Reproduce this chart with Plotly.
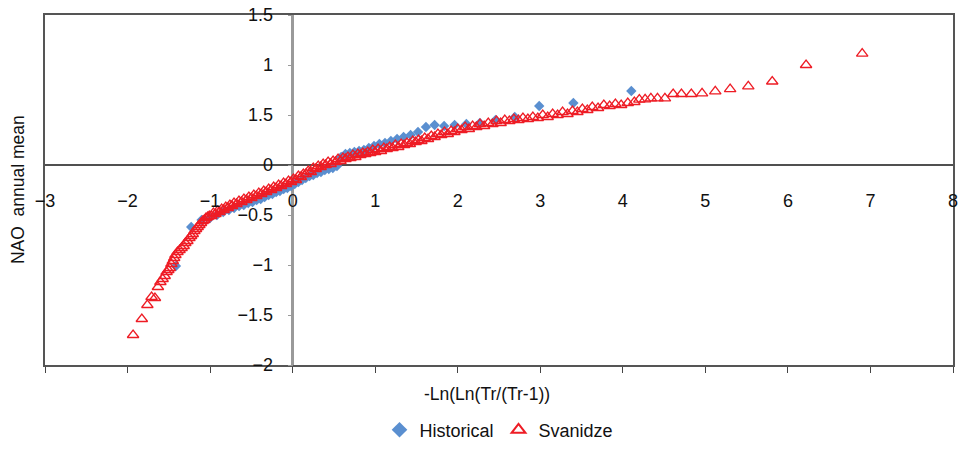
import plotly.graph_objects as go

# ---------------- data ----------------
hist_x = [-1.414, -1.229, -1.103, -1.002, -0.917, -0.841, -0.772, -0.709, -0.649, -0.592,
          -0.538, -0.486, -0.436, -0.387, -0.339, -0.291, -0.245, -0.199, -0.154, -0.109,
          -0.064, -0.020, 0.025, 0.070, 0.114, 0.159, 0.205, 0.250, 0.296, 0.343,
          0.390, 0.438, 0.487, 0.537, 0.588, 0.640, 0.693, 0.748, 0.805, 0.863,
          0.923, 0.986, 1.051, 1.119, 1.190, 1.265, 1.344, 1.429, 1.519, 1.615,
          1.720, 1.835, 1.962, 2.105, 2.268, 2.459, 2.691, 2.987, 3.401, 4.103]
hist_y = [-1.01, -0.62, -0.55, -0.53, -0.50, -0.47, -0.45, -0.43, -0.41, -0.40,
          -0.38, -0.37, -0.35, -0.34, -0.32, -0.30, -0.29, -0.27, -0.26, -0.24,
          -0.23, -0.21, -0.19, -0.17, -0.15, -0.13, -0.11, -0.10, -0.08, -0.07,
          -0.05, -0.04, -0.03, -0.01, 0.08, 0.11, 0.12, 0.13, 0.14, 0.15,
          0.17, 0.19, 0.21, 0.22, 0.24, 0.26, 0.28, 0.30, 0.33, 0.38,
          0.40, 0.39, 0.40, 0.41, 0.42, 0.45, 0.48, 0.59, 0.62, 0.74]

svan_x = [-1.933, -1.827, -1.760, -1.709, -1.668, -1.632, -1.602, -1.575, -1.550, -1.527,
          -1.506, -1.487, -1.469, -1.452, -1.435,
          -1.420, -1.395, -1.370, -1.345, -1.320, -1.300, -1.275, -1.250, -1.230, -1.210,
          -1.190, -1.170, -1.150, -1.130, -1.110, -1.090, -1.070, -1.050, -1.030, -1.010,
          -0.985, -0.960, -0.935, -0.910, -0.885, -0.860, -0.835, -0.810, -0.785, -0.760,
          -0.735, -0.710, -0.680, -0.650, -0.620, -0.590, -0.560, -0.530, -0.500, -0.470,
          -0.440, -0.410, -0.380, -0.350, -0.320, -0.290, -0.260, -0.230, -0.200, -0.170,
          -0.140, -0.110, -0.080, -0.050, -0.020, 0.010, 0.040, 0.070, 0.100, 0.130,
          0.160, 0.190, 0.220, 0.250, 0.280, 0.310, 0.340, 0.370, 0.400, 0.430,
          0.460, 0.490, 0.520, 0.550, 0.580, 0.610, 0.640, 0.670, 0.700, 0.730,
          0.760, 0.790, 0.820, 0.850, 0.880, 0.910, 0.940, 0.970, 1.000, 1.035,
          1.070, 1.105, 1.140, 1.175, 1.210, 1.245, 1.280, 1.315, 1.350, 1.385,
          1.420, 1.455, 1.490, 1.525, 1.560, 1.600, 1.640, 1.680, 1.720, 1.760,
          1.800, 1.840, 1.880, 1.920, 1.960, 2.000, 2.045, 2.090, 2.135, 2.180,
          2.225, 2.270, 2.320, 2.370, 2.420, 2.470, 2.520, 2.570, 2.625, 2.680,
          2.735, 2.790, 2.850, 2.910, 2.970, 3.030, 3.090, 3.150, 3.210, 3.270,
          3.330, 3.390, 3.450, 3.510, 3.570, 3.630, 3.700, 3.770, 3.840, 3.910,
          3.980, 4.060, 4.140, 4.200, 4.270, 4.340, 4.420, 4.510, 4.610, 4.710,
          4.830, 4.960, 5.120, 5.300, 5.520, 5.810, 6.220, 6.900]
svan_y = [-1.70, -1.54, -1.40, -1.32, -1.33, -1.22, -1.17, -1.14, -1.11, -1.07,
          -1.05, -1.03, -0.99, -0.96, -0.93,
          -0.90, -0.87, -0.85, -0.83, -0.81, -0.78, -0.76, -0.73, -0.71, -0.69,
          -0.66, -0.64, -0.62, -0.60, -0.58, -0.56, -0.55, -0.53, -0.52, -0.51,
          -0.51, -0.48, -0.49, -0.46, -0.47, -0.44, -0.45, -0.42, -0.43, -0.40,
          -0.41, -0.38, -0.39, -0.36, -0.37, -0.34, -0.35, -0.32, -0.33, -0.30,
          -0.31, -0.28, -0.29, -0.26, -0.27, -0.24, -0.25, -0.22, -0.23, -0.20,
          -0.21, -0.18, -0.19, -0.16, -0.17, -0.14, -0.15, -0.11, -0.12, -0.09,
          -0.09, -0.06, -0.07, -0.03, -0.04, -0.01, -0.02, 0.01, 0.00, 0.03,
          0.01, 0.04, 0.03, 0.06, 0.04, 0.07, 0.06, 0.08, 0.07, 0.10,
          0.08, 0.11, 0.10, 0.12, 0.11, 0.13, 0.12, 0.15, 0.13, 0.16,
          0.14, 0.17, 0.16, 0.18, 0.17, 0.20, 0.18, 0.21, 0.20, 0.22,
          0.21, 0.24, 0.23, 0.25, 0.24, 0.27, 0.26, 0.29, 0.28, 0.31,
          0.30, 0.33, 0.31, 0.34, 0.33, 0.36, 0.35, 0.38, 0.36, 0.39,
          0.38, 0.41, 0.39, 0.42, 0.41, 0.44, 0.42, 0.45, 0.44, 0.46,
          0.45, 0.47, 0.46, 0.48, 0.47, 0.50, 0.48, 0.51, 0.50, 0.53,
          0.51, 0.54, 0.53, 0.56, 0.55, 0.58, 0.57, 0.60, 0.59, 0.61,
          0.60, 0.62, 0.63, 0.654, 0.657, 0.667, 0.667, 0.667, 0.71, 0.71,
          0.71, 0.717, 0.736, 0.759, 0.786, 0.835, 1.00, 1.114]

x_ticks = [-3, -2, -1, 0, 1, 2, 3, 4, 5, 6, 7, 8]
x_ticktext = ["\u22123", "\u22122", "\u22121", "0", "1", "2", "3", "4", "5", "6", "7", "8"]
y_ticks = [-2, -1.5, -1, -0.5, 0, 0.5, 1, 1.5]
y_ticktext = ["\u22122", "\u22121.5", "\u22121", "\u22120.5", "0", "1.5", "1", "1.5"]

X_RANGE = [-3, 8]
Y_RANGE = [-2, 1.5]
FONT = "Liberation Sans, Arial, sans-serif"

fig = go.Figure()
fig.add_trace(go.Scatter(
    x=hist_x, y=hist_y, mode="markers", name="Historical",
    marker=dict(symbol="diamond", size=8, color="#5A8FD0", line=dict(width=0)),
    xaxis="x", yaxis="y"))
fig.add_trace(go.Scatter(
    x=svan_x, y=svan_y, mode="markers", name="Svanidze",
    marker=dict(symbol="triangle-up-open", size=10, color="#EE1C25", line=dict(width=1.3)),
    xaxis="x2", yaxis="y2"))

fig.update_layout(
    width=959, height=450,
    margin=dict(l=45, r=1, t=15, b=80),
    paper_bgcolor="white", plot_bgcolor="white",
    font=dict(family=FONT, size=18, color="#111"),
    showlegend=True,
    legend=dict(orientation="h", x=0.5, xanchor="center", y=-0.186, yanchor="middle",
                font=dict(size=18), itemsizing="constant", bgcolor="rgba(0,0,0,0)"),
    xaxis=dict(range=X_RANGE, tickvals=x_ticks, showticklabels=False,
               ticks="outside", ticklen=6, tickcolor="#444", tickwidth=1,
               showline=True, linecolor="#555", linewidth=1.5, mirror=True,
               showgrid=False, zeroline=True, zerolinecolor="#9a9a9a", zerolinewidth=3),
    yaxis=dict(range=Y_RANGE, tickvals=y_ticks, showticklabels=False, ticks="",
               showline=True, linecolor="#555", linewidth=1.5, mirror=True,
               showgrid=False, zeroline=True, zerolinecolor="#505050", zerolinewidth=1.8),
    xaxis2=dict(range=X_RANGE, overlaying="x", anchor="free", position=2/3.5,
                tickvals=x_ticks, ticktext=x_ticktext, ticks="", showline=False,
                ticklabelstandoff=23, ticklabeloverflow="allow",
                showgrid=False, zeroline=False, tickfont=dict(size=18)),
    yaxis2=dict(range=Y_RANGE, overlaying="y", anchor="free", position=3/11,
                tickvals=y_ticks, ticktext=y_ticktext, ticks="outside", ticklen=5,
                tickcolor="#9a9a9a", ticklabelstandoff=11, showline=False,
                showgrid=False, zeroline=False, tickfont=dict(size=18)),
    annotations=[
        dict(text="NAO  annual mean", xref="paper", yref="paper", x=-0.0296, y=0.5,
             xanchor="center", yanchor="middle", textangle=-90, showarrow=False,
             font=dict(size=17.5)),
        dict(text="-Ln(Ln(Tr/(Tr-1))", xref="paper", yref="paper", x=0.487, y=-0.0817,
             xanchor="center", yanchor="middle", showarrow=False, font=dict(size=17.5)),
    ],
)

fig.write_html("out.html")
